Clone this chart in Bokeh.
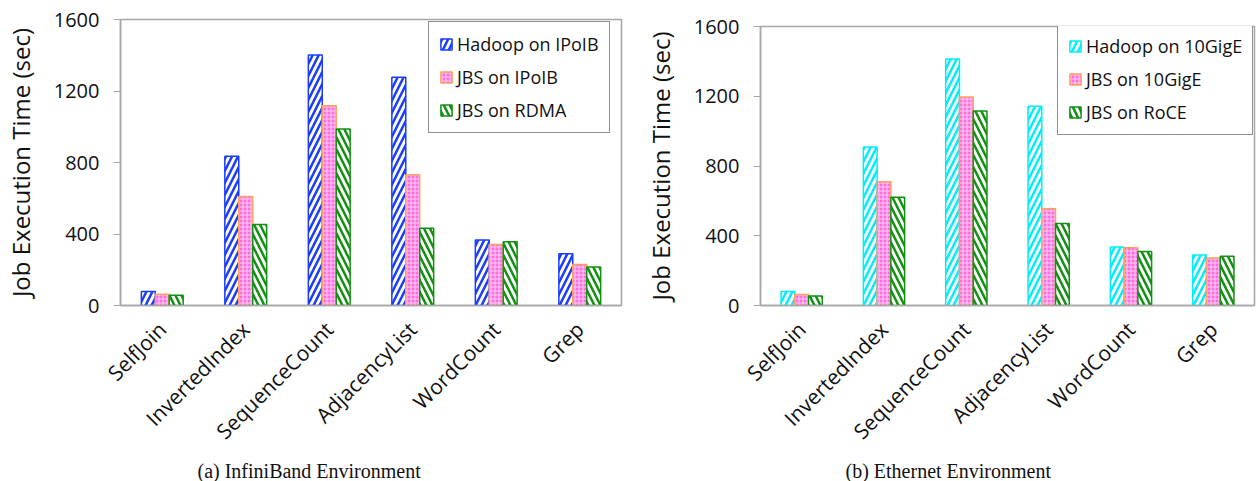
from bokeh.plotting import figure
from bokeh.models import ColumnDataSource, FactorRange, Legend, LegendItem, Title, FixedTicker
from bokeh.transform import dodge
from bokeh.layouts import row, column
from bokeh.embed import file_html
from bokeh.resources import INLINE
import math

categories = ["SelfJoin", "InvertedIndex", "SequenceCount", "AdjacencyList", "WordCount", "Grep"]

ib_hadoop_ipoib = [78, 835, 1402, 1277, 367, 289]
ib_jbs_ipoib = [63, 610, 1117, 731, 341, 229]
ib_jbs_rdma = [58, 453, 988, 432, 356, 216]

eth_hadoop_10gige = [80, 909, 1414, 1143, 336, 289]
eth_jbs_10gige = [63, 709, 1196, 555, 331, 272]
eth_jbs_roce = [55, 621, 1116, 470, 310, 283]

y_ticks = [0, 400, 800, 1200, 1600]

FONT = "Open Sans"
BW = 0.167
TXT = "#111111"


def make_fig(width, height, borders, series, names, styles, caption, legend_loc, cap_offset):
    bl, br, bt, bb = borders
    src = ColumnDataSource(dict(cat=categories, a=series[0], b=series[1], c=series[2]))
    p = figure(x_range=FactorRange(*categories, range_padding=0), y_range=(0, 1600),
               width=width, height=height, output_backend="svg", toolbar_location=None,
               min_border_left=bl, min_border_right=br, min_border_top=bt, min_border_bottom=bb)
    renderers = []
    for key, off, st in zip(["a", "b", "c"], [-BW, 0, BW], styles):
        r = p.vbar(x=dodge("cat", off, range=p.x_range), top=key, width=BW, bottom=0, source=src,
                   fill_color=st["fill"], line_color=st["line"], line_width=1.5,
                   hatch_pattern=st["hatch"], hatch_color=st["hcolor"],
                   hatch_weight=st["hweight"], hatch_scale=st["hscale"])
        renderers.append(r)
    p.xgrid.visible = False
    p.ygrid.visible = False
    p.outline_line_color = "#a6a6a6"
    p.outline_line_width = 1.5
    p.yaxis.ticker = FixedTicker(ticks=y_ticks)
    p.yaxis.axis_label = "Job Execution Time (sec)"
    p.yaxis.axis_label_text_font = FONT
    p.yaxis.axis_label_text_font_style = "normal"
    p.yaxis.axis_label_text_font_size = "24px"
    p.yaxis.axis_label_text_color = TXT
    p.yaxis.axis_label_standoff = 14
    p.yaxis.major_label_text_font = FONT
    p.yaxis.major_label_text_font_size = "20px"
    p.yaxis.major_label_text_color = TXT
    p.yaxis.major_label_standoff = 14
    p.yaxis.axis_line_color = "#a6a6a6"
    p.yaxis.axis_line_width = 1.5
    p.yaxis.major_tick_line_color = "#a6a6a6"
    p.yaxis.major_tick_in = 0
    p.yaxis.major_tick_out = 7
    p.yaxis.minor_tick_line_color = None
    p.xaxis.axis_line_color = "#a6a6a6"
    p.xaxis.axis_line_width = 1.5
    p.xaxis.major_tick_line_color = None
    p.xaxis.minor_tick_line_color = None
    p.xaxis.major_label_orientation = math.pi / 4
    p.xaxis.major_label_text_font = FONT
    p.xaxis.major_label_text_font_size = "21px"
    p.xaxis.major_label_text_color = TXT
    p.xaxis.major_label_standoff = 14
    items = [LegendItem(label=n, renderers=[r]) for n, r in zip(names, renderers)]
    leg = Legend(items=items, location=legend_loc)
    leg.label_text_font = FONT
    leg.label_text_font_size = "18px"
    leg.label_text_color = TXT
    leg.glyph_width = 14
    leg.glyph_height = 14
    leg.label_standoff = 4
    leg.spacing = 9
    leg.padding = 10
    leg.border_line_color = "#222222"
    leg.border_line_width = 1
    leg.background_fill_alpha = 1
    p.add_layout(leg, "center")
    t = Title(text=caption, align="left", offset=cap_offset, text_font="Liberation Serif",
              text_font_size="20px", text_font_style="normal", text_color=TXT, standoff=0)
    p.add_layout(t, "below")
    return p


hstyles_a = [
    dict(fill="white", line="#1a3cff", hatch="/", hcolor="#1a3cff", hweight=2.5, hscale=12),
    dict(fill="#ff6ee0", line="#ffa060", hatch="+", hcolor="#ffd0f4", hweight=1, hscale=4),
    dict(fill="white", line="#129012", hatch="\\", hcolor="#129012", hweight=2.5, hscale=12),
]
hstyles_b = [
    dict(fill="white", line="#00eef8", hatch="/", hcolor="#00eef8", hweight=2.5, hscale=12),
    dict(fill="#ff6ee0", line="#ffa060", hatch="+", hcolor="#ffd0f4", hweight=1, hscale=4),
    dict(fill="white", line="#129012", hatch="\\", hcolor="#129012", hweight=2.5, hscale=12),
]

p1 = make_fig(640, 481, (118, 19, 19, 176),
              [ib_hadoop_ipoib, ib_jbs_ipoib, ib_jbs_rdma],
              ["Hadoop on IPoIB", "JBS on IPoIB", "JBS on RDMA"], hstyles_a,
              "(a)  InfiniBand Environment", (308, 172), 77)
p2 = make_fig(616, 481, (119, 2, 26, 174),
              [eth_hadoop_10gige, eth_jbs_10gige, eth_jbs_roce],
              ["Hadoop on 10GigE", "JBS on 10GigE", "JBS on RoCE"], hstyles_b,
              "(b)  Ethernet Environment", (297, 170), 85)

layout = row(column(p1), column(p2), spacing=0)
open("out.html", "w").write(file_html(layout, INLINE))
